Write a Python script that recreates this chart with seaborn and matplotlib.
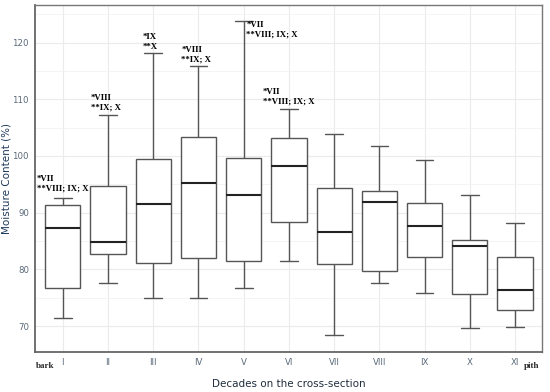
import matplotlib
matplotlib.use("Agg")
import matplotlib.pyplot as plt
import seaborn as sns
import pandas as pd
from matplotlib.ticker import MultipleLocator

# decades from bark to pith
decades = ["I", "II", "III", "IV", "V", "VI", "VII", "VIII", "IX", "X", "XI"]

# five-number summaries (min, Q1, median, Q3, max)
mins = [71.4, 77.6, 74.9, 74.9, 76.7, 81.5, 68.4, 77.6, 75.9, 69.6, 69.8]
q1s = [76.8, 82.7, 81.1, 82.0, 81.5, 88.3, 80.9, 79.8, 82.2, 75.6, 72.9]
medians = [87.3, 84.8, 91.5, 95.2, 93.1, 98.25, 86.6, 91.9, 87.6, 84.05, 76.35]
q3s = [91.3, 94.7, 99.55, 103.4, 99.7, 103.1, 94.3, 93.9, 91.7, 85.2, 82.1]
maxs = [92.6, 107.3, 118.2, 115.8, 123.8, 108.2, 103.8, 101.8, 99.2, 93.1, 88.1]

# significance notes above the first six decades
notes = ["*VII\n**VIII; IX; X", "*VIII\n**IX; X", "*IX\n**X",
         "*VIII\n**IX; X", "*VII\n**VIII; IX; X", "*VII\n**VIII; IX; X"]
note_dx = [-0.575, -0.38, -0.23, -0.38, 0.055, -0.575]
note_y = [95.1, 109.35, 120.1, 117.85, 122.3, 110.4]

rows = []
for d, a, b, c, e, f in zip(decades, mins, q1s, medians, q3s, maxs):
    for v in (a, b, c, e, f):
        rows.append({"decade": d, "moisture": v})
df = pd.DataFrame(rows)

sns.set_theme(style="whitegrid")
fig, ax = plt.subplots(figsize=(5.5, 3.92), dpi=100)
fig.subplots_adjust(left=0.064, right=0.985, top=0.987, bottom=0.103)

sns.boxplot(data=df, x="decade", y="moisture", order=decades, whis=(0, 100),
            width=0.78, color="white", linecolor="#555555", linewidth=1.0,
            fliersize=0, medianprops={"color": "#222222", "linewidth": 1.5},
            ax=ax)

ax.set_ylim(65.5, 126.6)
ax.set_xlim(-0.61, 10.59)
ax.yaxis.set_major_locator(MultipleLocator(10))
ax.yaxis.set_minor_locator(MultipleLocator(5))
ax.grid(True, which="major", color="#EBEBEB", linewidth=0.8)
ax.grid(True, which="minor", axis="y", color="#F3F3F3", linewidth=0.6)
ax.set_axisbelow(True)

for s in ax.spines.values():
    s.set_color("#777777")
    s.set_linewidth(1.0)
ax.spines["left"].set_linewidth(1.3)
ax.spines["bottom"].set_linewidth(1.3)
ax.spines["left"].set_color("#666666")
ax.spines["bottom"].set_color("#666666")

ax.tick_params(axis="both", which="major", length=2.5, width=0.8, color="#333333",
               labelsize=6.2, labelcolor="#5A6A7A", pad=2)
ax.tick_params(axis="both", which="minor", length=0)

ax.set_xlabel("Decades on the cross-section", fontsize=7.5, color="#1F2D3D", labelpad=9)
ax.set_ylabel("Moisture Content (%)", fontsize=7.5, color="#1F3A5A")
ax.yaxis.set_label_coords(-0.047, 0.5)

serif = ["Liberation Serif", "DejaVu Serif"]
for i, txt in enumerate(notes):
    ax.text(i + note_dx[i], note_y[i], txt, ha="left", va="center", fontsize=6.3,
            fontweight="bold", family=serif, color="black", linespacing=1.3)

ax.text(-0.6, -0.03, "bark", transform=ax.get_xaxis_transform(), ha="left",
        va="top", fontsize=6.5, fontweight="bold", family=serif, clip_on=False)
ax.text(10.2, -0.03, "pith", transform=ax.get_xaxis_transform(), ha="left",
        va="top", fontsize=6.5, fontweight="bold", family=serif, clip_on=False)

fig.savefig("out.png", dpi=100)
